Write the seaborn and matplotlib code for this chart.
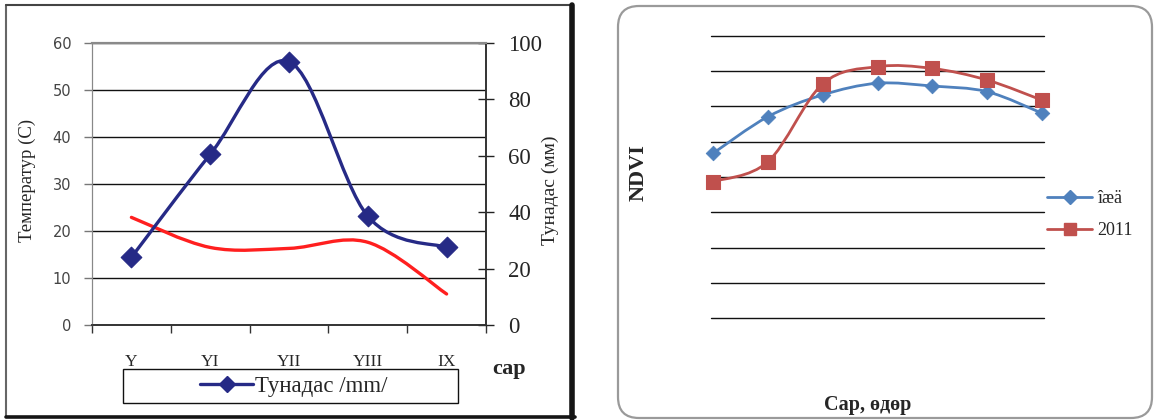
import numpy as np
import seaborn as sns
import matplotlib.pyplot as plt
from matplotlib.path import Path
from matplotlib.patches import PathPatch, Rectangle, FancyBboxPatch
from matplotlib.lines import Line2D
from matplotlib.transforms import IdentityTransform

# left chart: months, precipitation (mm, right axis), temperature (C, left axis)
months = ['Y', 'YI', 'YII', 'YIII', 'IX']
precip = [24.0, 60.5, 93.4, 38.6, 27.5]
temp = [22.9, 16.5, 16.3, 17.6, 6.6]

# right chart: NDVI, average vs 2011
ndvi_x = [0, 1, 2, 3, 4, 5, 6]
ndvi_avg = [0.467, 0.571, 0.633, 0.666, 0.658, 0.642, 0.581]
ndvi_2011 = [0.387, 0.443, 0.664, 0.713, 0.708, 0.675, 0.618]
ndvi_names = ['îæä', '2011']

W, H = 1154, 420
navy = '#262a86'
red = '#ff1f1f'
blue2 = '#4f81bd'
red2 = '#c0504d'


def smooth_path(x, y):
    # excel-like smoothed line (catmull-rom as cubic bezier)
    pts = np.column_stack([x, y]).astype(float)
    p = np.vstack([pts[0], pts, pts[-1]])
    verts = [pts[0]]
    codes = [Path.MOVETO]
    for i in range(1, len(p) - 2):
        c1 = p[i] + (p[i + 1] - p[i - 1]) / 6
        c2 = p[i + 1] - (p[i + 2] - p[i]) / 6
        verts += [c1, c2, p[i + 1]]
        codes += [Path.CURVE4] * 3
    return Path(verts, codes)


def px(x0, y0, w, h):
    return [x0 / W, (H - y0 - h) / H, w / W, h / H]


sns.set_style('white')
plt.rcParams['font.family'] = ['Liberation Serif', 'DejaVu Serif']

fig = plt.figure(figsize=(W / 100, H / 100), dpi=100)

# ---------------- left chart ----------------
ax = fig.add_axes(px(92, 43, 394, 282))
ax2 = ax.twinx()
xc = np.arange(len(months))

ax.add_patch(PathPatch(smooth_path(xc, temp), fill=False, edgecolor=red,
                       lw=2.4, capstyle='round', zorder=3))
ax2.add_patch(PathPatch(smooth_path(xc, precip), fill=False, edgecolor=navy,
                        lw=2.4, capstyle='round', zorder=3))
sns.scatterplot(x=xc, y=precip, ax=ax2, marker='D', s=110, color=navy,
                edgecolor=navy, zorder=4, legend=False)

ax.set_xlim(-0.5, len(months) - 0.5)
ax.set_ylim(0, 60)
ax2.set_ylim(0, 100)
ax.set_yticks(np.arange(0, 61, 10))
ax2.set_yticks(np.arange(0, 101, 20))
ax.yaxis.grid(True, color='#111111', lw=1.0)
ax.set_axisbelow(True)

ax.set_xticks(xc)
ax.set_xticklabels(months, fontsize=12.5)
ax.set_xticks(np.arange(-0.5, len(months)), minor=True)
ax.tick_params(axis='x', which='major', length=0, pad=21)
ax.tick_params(axis='x', which='minor', length=6, width=1, color='#333333',
               direction='out', bottom=True)
ax.tick_params(axis='y', length=6, width=1, color='#777777', direction='out',
               pad=9, labelsize=10.5, labelcolor='#444444', left=True)
for lab in ax.get_yticklabels():
    lab.set_family('DejaVu Sans')
ax2.tick_params(axis='y', length=12, width=1, color='#222222',
                direction='inout', pad=10, labelsize=16.5, right=True)
ax.set_xlabel('')
ax.set_ylabel('')
ax2.set_xlabel('')
ax2.set_ylabel('')

for a in (ax, ax2):
    a.spines['left'].set_color('#888888')
    a.spines['top'].set_color('#8a8a8a')
    a.spines['top'].set_linewidth(1.5)
    a.spines['bottom'].set_color('#333333')
    a.spines['bottom'].set_linewidth(1.2)
    a.spines['right'].set_color('#333333')
    a.spines['right'].set_linewidth(1.2)

fig.text(27 / W, 1 - 180 / H, 'Температур (С)', rotation=90, ha='center',
         va='center', fontsize=13.5)
fig.text(550 / W, 1 - 190 / H, 'Тунадас (мм)', rotation=90, ha='center',
         va='center', fontsize=14)
fig.text(509 / W, 1 - 369 / H, 'сар', ha='center', va='center',
         fontsize=16, fontweight='bold')

# legend box under the left chart
fig.add_artist(Rectangle((123, H - 403), 335, 34, transform=IdentityTransform(),
                         fill=False, edgecolor='#111111', lw=1.0))
h_pr = Line2D([], [], color=navy, lw=2.4, marker='D', ms=8)
fig.legend([h_pr], ['Тунадас /mm/'], loc='center',
           bbox_to_anchor=(294 / W, 1 - 386 / H), frameon=False, fontsize=16.5,
           handlelength=2.3, handletextpad=0.1, borderpad=0)

# left panel frame
tr = IdentityTransform()
fig.add_artist(Line2D([6, 6], [H - 5, H - 416], transform=tr, color='#666666', lw=1.5))
fig.add_artist(Line2D([6, 573], [H - 5, H - 5], transform=tr, color='#444444', lw=1.5))
fig.add_artist(Line2D([572, 572], [H - 5, H - 418], transform=tr, color='#151515', lw=4))
fig.add_artist(Line2D([6, 575], [H - 416.5, H - 416.5], transform=tr, color='#151515', lw=2.6))

# ---------------- right chart ----------------
axr = fig.add_axes(px(711, 36, 333, 282))
axr.add_patch(PathPatch(smooth_path(ndvi_x, ndvi_avg), fill=False, edgecolor=blue2,
                        lw=2.0, capstyle='round', zorder=3, clip_on=False))
axr.add_patch(PathPatch(smooth_path(ndvi_x, ndvi_2011), fill=False, edgecolor=red2,
                        lw=2.0, capstyle='round', zorder=3, clip_on=False))
sns.scatterplot(x=ndvi_x, y=ndvi_avg, ax=axr, marker='D', s=55, color=blue2,
                edgecolor=blue2, zorder=4, legend=False, clip_on=False)
sns.scatterplot(x=ndvi_x, y=ndvi_2011, ax=axr, marker='s', s=95, color=red2,
                edgecolor=red2, zorder=5, legend=False, clip_on=False)
axr.set_xlim(-0.036, 6.036)
axr.set_ylim(0, 0.8)
axr.set_yticks(np.arange(0, 0.81, 0.1))
axr.set_xticks([])
axr.yaxis.grid(True, color='#111111', lw=1.0)
axr.set_axisbelow(True)
for gl in axr.get_ygridlines():
    gl.set_clip_on(False)
axr.tick_params(axis='y', length=0, labelleft=False)
axr.set_xlabel('')
axr.set_ylabel('')
sns.despine(ax=axr, left=True, bottom=True)

fig.text(639 / W, 1 - 173 / H, 'NDVI', rotation=90, ha='center', va='center',
         fontsize=16, fontweight='bold')
fig.text(868 / W, 1 - 405 / H, 'Сар, өдөр', ha='center', va='center',
         fontsize=14.5, fontweight='bold')

hr = [Line2D([], [], color=blue2, lw=2.0, marker='D', ms=7),
      Line2D([], [], color=red2, lw=2.0, marker='s', ms=9)]
fig.legend(hr, ndvi_names, loc='upper left', bbox_to_anchor=(1047 / W, 1 - 190 / H),
           frameon=False, fontsize=13, handlelength=2.5, handletextpad=0.3,
           labelspacing=0.85, borderpad=0, borderaxespad=0)

fig.add_artist(FancyBboxPatch((618, 2), 534, 412, boxstyle='round,pad=0,rounding_size=21',
                              transform=tr, fill=False, edgecolor='#9a9a9a', lw=1.6))

fig.savefig('out.png', dpi=100)
